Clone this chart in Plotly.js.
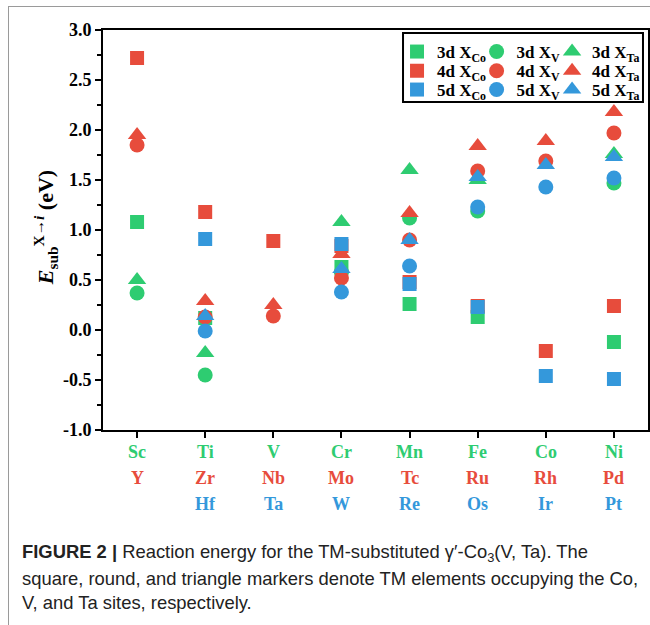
<!DOCTYPE html>
<html>
<head>
<meta charset="utf-8">
<script src="https://cdn.plot.ly/plotly-3.0.1.min.js"></script>
<style>
  html, body { margin: 0; padding: 0; background: #fff; }
  #wrap { position: relative; width: 650px; height: 625px; overflow: hidden; }
  #frame { position: absolute; left: 8px; top: 6px; width: 700px; height: 700px;
           border-left: 1px solid #9a9a9a; border-top: 1px solid #9a9a9a; pointer-events: none; }
  #chart { position: absolute; left: 0; top: 0; width: 650px; height: 625px; }
</style>
</head>
<body>
<div id="wrap">
  <div id="chart"></div>
  <div id="frame"></div>
</div>
<script>
// ---- Data ----
const positions = [0, 1, 2, 3, 4, 5, 6, 7];
const row3d = ['Sc', 'Ti', 'V', 'Cr', 'Mn', 'Fe', 'Co', 'Ni'];
const row4d = ['Y', 'Zr', 'Nb', 'Mo', 'Tc', 'Ru', 'Rh', 'Pd'];
const row5d = ['', 'Hf', 'Ta', 'W', 'Re', 'Os', 'Ir', 'Pt'];

const d3_Co = [1.08, 0.12, null, 0.63, 0.26, 0.13, null, -0.12];
const d3_V  = [0.37, -0.45, null, 0.58, 1.12, 1.19, null, 1.47];
const d3_Ta = [0.50, -0.23, null, 1.08, 1.60, 1.50, null, 1.76];
const d4_Co = [2.72, 1.18, 0.89, 0.84, 0.48, 0.24, -0.21, 0.24];
const d4_V  = [1.85, 0.13, 0.14, 0.52, 0.90, 1.59, 1.69, 1.97];
const d4_Ta = [1.95, 0.29, 0.25, 0.76, 1.17, 1.84, 1.89, 2.18];
const d5_Co = [null, 0.91, null, 0.86, 0.46, 0.23, -0.46, -0.49];
const d5_V  = [null, -0.01, null, 0.38, 0.64, 1.23, 1.43, 1.52];
const d5_Ta = [null, 0.14, null, 0.61, 0.90, 1.53, 1.65, 1.73];

const yTickVals = [-1.0, -0.5, 0.0, 0.5, 1.0, 1.5, 2.0, 2.5, 3.0];
const yTickText = ['-1.0', '-0.5', '0.0', '0.5', '1.0', '1.5', '2.0', '2.5', '3.0'];

const captionLines = [
  '<b>FIGURE 2 |</b> Reaction energy for the TM-substituted γ′-Co<sub>3</sub>(V, Ta). The',
  'square, round, and triangle markers denote TM elements occupying the Co,',
  'V, and Ta sites, respectively.'
];

// ---- Styles ----
const GREEN = '#2ecc71', RED = '#e74c3c', BLUE = '#3498db';
const SERIF = 'Liberation Serif, Times New Roman, serif';
const SANS = 'Liberation Sans, Arial, sans-serif';

const series = [
  {name: '3d X<sub>Co</sub>', y: d3_Co, color: GREEN, symbol: 'square', size: 14},
  {name: '3d X<sub>V</sub>',  y: d3_V,  color: GREEN, symbol: 'circle', size: 15},
  {name: '3d X<sub>Ta</sub>', y: d3_Ta, color: GREEN, symbol: 'triangle-up', size: 16},
  {name: '4d X<sub>Co</sub>', y: d4_Co, color: RED, symbol: 'square', size: 14},
  {name: '4d X<sub>V</sub>',  y: d4_V,  color: RED, symbol: 'circle', size: 15},
  {name: '4d X<sub>Ta</sub>', y: d4_Ta, color: RED, symbol: 'triangle-up', size: 16},
  {name: '5d X<sub>Co</sub>', y: d5_Co, color: BLUE, symbol: 'square', size: 14},
  {name: '5d X<sub>V</sub>',  y: d5_V,  color: BLUE, symbol: 'circle', size: 15},
  {name: '5d X<sub>Ta</sub>', y: d5_Ta, color: BLUE, symbol: 'triangle-up', size: 16}
];

const legendName = i => (i === 0 ? 'legend' : 'legend' + (i + 1));

const traces = series.map((s, i) => ({
  type: 'scatter', mode: 'markers', x: positions, y: s.y, name: s.name,
  legend: legendName(i),
  marker: {color: s.color, symbol: s.symbol, size: s.size, line: {width: 0}},
  cliponaxis: false
}));

const annotations = [];
const rows = [[row3d, GREEN, -22], [row4d, RED, -48], [row5d, BLUE, -74]];
rows.forEach(([labels, color, shift]) => {
  labels.forEach((lab, i) => {
    if (!lab) return;
    annotations.push({
      xref: 'x', yref: 'paper', x: positions[i], y: 0, yshift: shift,
      xanchor: 'center', yanchor: 'middle', showarrow: false, text: lab,
      font: {family: SERIF, size: 18, color: color, weight: 'bold'}
    });
  });
});
// y-axis title
annotations.push({
  xref: 'paper', yref: 'paper', x: -0.106, y: 0.505, xanchor: 'center', yanchor: 'middle',
  textangle: -90, showarrow: false,
  text: '<i>E</i><sub>sub</sub><sup>X→<i>i</i></sup> (eV)',
  font: {family: SERIF, size: 22, color: '#000', weight: 'bold'}
});
// caption
const capY = [-0.3075, -0.37, -0.43];
captionLines.forEach((t, i) => {
  annotations.push({
    xref: 'paper', yref: 'paper', x: -0.152, y: capY[i], xanchor: 'left', yanchor: 'middle',
    showarrow: false, text: t, align: 'left',
    font: {family: SANS, size: 18.4, color: '#222'}
  });
});

// legend grid positions (paper coords): columns by site, rows by period
const legColX = [0.5395, 0.6855, 0.824];
const legRowY = [0.99, 0.942, 0.895];

const layout = {
  width: 650, height: 625,
  margin: {l: 103, r: 2, t: 30, b: 195},
  paper_bgcolor: '#fff', plot_bgcolor: '#fff',
  showlegend: true,
  xaxis: {
    range: [-0.5, 7.5], tickvals: positions, showticklabels: false,
    ticks: 'outside', ticklen: 6, tickwidth: 2, tickcolor: '#000',
    showline: true, linewidth: 2, linecolor: '#000', mirror: true,
    showgrid: false, zeroline: false
  },
  yaxis: {
    range: [-1.0, 3.0], tickvals: yTickVals, ticktext: yTickText,
    ticks: 'outside', ticklen: 6, tickwidth: 2, tickcolor: '#000',
    minor: {dtick: 0.25, ticks: 'outside', ticklen: 4, tickwidth: 2, tickcolor: '#000', showgrid: false},
    showline: true, linewidth: 2, linecolor: '#000', mirror: true,
    showgrid: false, zeroline: false,
    tickfont: {family: SERIF, size: 18, color: '#000', weight: 'bold'}
  },
  shapes: [{
    type: 'rect', xref: 'paper', yref: 'paper',
    x0: 0.5505, x1: 0.9908, y0: 0.82, y1: 0.9925,
    line: {color: '#000', width: 2}, fillcolor: 'rgba(0,0,0,0)'
  }],
  annotations: annotations
};

series.forEach((s, i) => {
  layout[legendName(i)] = {
    xref: 'paper', yref: 'paper',
    x: legColX[i % 3], y: legRowY[Math.floor(i / 3)],
    xanchor: 'left', yanchor: 'top',
    bgcolor: 'rgba(0,0,0,0)', borderwidth: 0, orientation: 'v',
    font: {family: SERIF, size: 17, color: '#000', weight: 'bold'},
    itemwidth: 30
  };
});

Plotly.newPlot('chart', traces, layout, {displayModeBar: false, staticPlot: true});
</script>
</body>
</html>
